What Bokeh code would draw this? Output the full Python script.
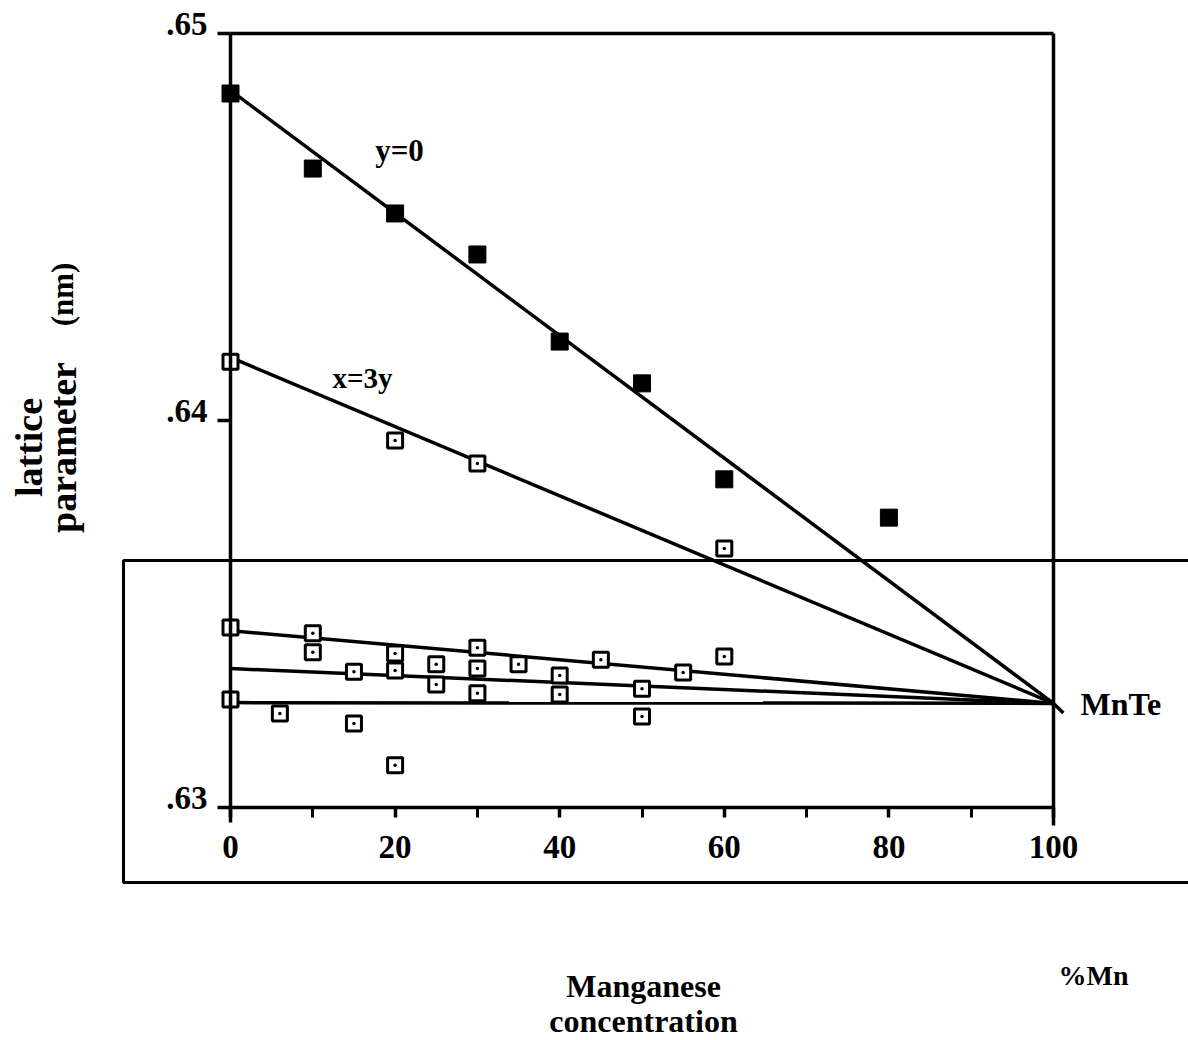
import math
from bokeh.plotting import figure
from bokeh.models import Range1d, LinearAxis, FixedTicker, CustomJSTickFormatter
from bokeh.core.properties import value
from bokeh.embed import file_html
from bokeh.resources import INLINE

# Lattice parameter (nm) against % Mn
# y = 0 series (filled squares)
y0_mn = [0, 10, 20, 30, 40, 50, 60, 80]
y0_a = [0.64845, 0.64651, 0.64535, 0.64429, 0.64204, 0.64096, 0.63848, 0.63749]

# x = 3y series (open squares)
x3y_mn = [0, 20, 30, 60]
x3y_a = [0.64152, 0.63948, 0.63889, 0.63669]

# remaining compositions (open squares)
low_mn = [0, 0, 6, 10, 10, 15, 15, 20, 20, 20, 25, 25, 30, 30, 30,
          35, 40, 40, 45, 50, 50, 55, 60]
low_a = [0.63465, 0.63279, 0.63243, 0.63450, 0.63401, 0.63351, 0.63217,
         0.63398, 0.63354, 0.63109, 0.63370, 0.63318, 0.63413, 0.63359,
         0.63295, 0.63370, 0.63341, 0.63292, 0.63382, 0.63307, 0.63235,
         0.63349, 0.63390]

# straight lines drawn to MnTe (end points at 0 and 100 % Mn)
fit_mn = [0, 100]
fit_y0 = [0.64853, 0.63269]
fit_x3y = [0.64163, 0.63269]
fit_low_a = [0.63457, 0.63269]
fit_low_b = [0.63359, 0.63269]
fit_low_c = [0.63271, 0.63269]

x_ticks = [0, 20, 40, 60, 80, 100]
x_minor = [10, 30, 50, 70, 90]
y_ticks = [0.63, 0.64, 0.65]
y_tick_labels = [".63", ".64", ".65"]

W, H = 1188, 1040
# pixel placement of the axes box
X0, X100 = 230, 1053
Y63, Y65 = 807, 33
kx = (X100 - X0) / 100.0
ky = (Y63 - Y65) / 0.02

def dx(px):
    return (px - X0) / kx

def dy(py):
    return 0.63 + (Y63 - py) / ky

FONT = value("Liberation Serif")

p = figure(width=W, height=H, output_backend="svg", toolbar_location=None,
           x_range=Range1d(dx(0), dx(W)), y_range=Range1d(dy(H), dy(0)),
           x_axis_location=None, y_axis_location=None,
           min_border=0, min_border_left=0, min_border_right=0,
           min_border_top=0, min_border_bottom=0)
p.outline_line_color = None
p.xgrid.visible = False
p.ygrid.visible = False
p.background_fill_color = "white"
p.border_fill_color = "white"

LW = 3.5

xaxis = LinearAxis(fixed_location=0.63, bounds=(0, 100),
                   ticker=FixedTicker(ticks=x_ticks, minor_ticks=x_minor))
xaxis.axis_line_width = LW
xaxis.major_tick_in = 0
xaxis.major_tick_out = 10
xaxis.minor_tick_in = 0
xaxis.minor_tick_out = 10
xaxis.major_tick_line_width = LW
xaxis.minor_tick_line_width = 3
xaxis.major_label_text_font = "Liberation Serif"
xaxis.major_label_text_font_style = "bold"
xaxis.major_label_text_font_size = "33px"
xaxis.major_label_text_color = "black"
xaxis.major_label_standoff = 18
p.add_layout(xaxis, "below")

yaxis = LinearAxis(fixed_location=0, bounds=(0.63, 0.65),
                   ticker=FixedTicker(ticks=y_ticks, minor_ticks=[]),
                   formatter=CustomJSTickFormatter(code="return ''"))
yaxis.axis_line_width = LW
yaxis.major_tick_in = 0
yaxis.major_tick_out = 13
yaxis.major_tick_line_width = LW
p.add_layout(yaxis, "left")

# y tick labels, set a little above their ticks
p.text(x=[dx(207)] * len(y_ticks), y=y_ticks, text=y_tick_labels,
       text_font=FONT, text_font_style="bold", text_font_size="33px",
       text_align="right", text_baseline="middle", y_offset=-10)

# frame: top and right edges, short extensions below the x axis
p.line([0, 100], [0.65, 0.65], line_color="black", line_width=LW)
p.line([100, 100], [0.65, dy(825)], line_color="black", line_width=LW)
p.line([0, 0], [0.63, dy(822)], line_color="black", line_width=LW)

# enclosing box around the lower part
bx0 = dx(123)
p.line([dx(W), bx0, bx0, dx(W)], [dy(560), dy(560), dy(882), dy(882)],
       line_color="black", line_width=3)

# lines to MnTe
for ys in (fit_y0, fit_x3y, fit_low_a, fit_low_b, fit_low_c):
    p.line(fit_mn, ys, line_color="black", line_width=LW)
p.line([100, 101.2], [fit_y0[1], fit_y0[1] - 0.00025], line_color="black", line_width=LW)

# markers
p.scatter(y0_mn, y0_a, marker="square", size=17, fill_color="black",
          line_color="black")
for xs, ys in ((x3y_mn, x3y_a), (low_mn, low_a)):
    p.scatter(xs, ys, marker="square", size=15, fill_color="white",
              line_color="black", line_width=3)
    p.scatter(xs, ys, marker="circle", size=3.5, fill_color="black",
              line_color=None)

# texts
p.text(x=[dx(399)], y=[dy(150)], text=["y=0"], text_font=FONT,
       text_font_style="bold", text_font_size="31px",
       text_align="center", text_baseline="middle")
p.text(x=[dx(362)], y=[dy(377)], text=["x=3y"], text_font=FONT,
       text_font_style="bold", text_font_size="29px",
       text_align="center", text_baseline="middle")
p.text(x=[dx(1080)], y=[dy(703)], text=["MnTe"], text_font=FONT,
       text_font_style="bold", text_font_size="32px",
       text_align="left", text_baseline="middle")
p.text(x=[dx(1058)], y=[dy(975)], text=["%Mn"], text_font=FONT,
       text_font_style="bold", text_font_size="28px",
       text_align="left", text_baseline="middle")
p.text(x=[dx(643), dx(643)], y=[dy(985), dy(1020)],
       text=["Manganese", "concentration"], text_font=FONT,
       text_font_style="bold", text_font_size="32px",
       text_align="center", text_baseline="middle")
p.text(x=[dx(28)], y=[dy(447)], text=["lattice"], text_font=FONT,
       text_font_style="bold", text_font_size="38px", angle=math.pi / 2,
       text_align="center", text_baseline="middle")
p.text(x=[dx(62)], y=[dy(447)], text=["parameter"], text_font=FONT,
       text_font_style="bold", text_font_size="38px", angle=math.pi / 2,
       text_align="center", text_baseline="middle")
p.text(x=[dx(62)], y=[dy(294)], text=["(nm)"], text_font=FONT,
       text_font_style="bold", text_font_size="31px", angle=math.pi / 2,
       text_align="center", text_baseline="middle")

open("out.html", "w").write(file_html(p, INLINE))
